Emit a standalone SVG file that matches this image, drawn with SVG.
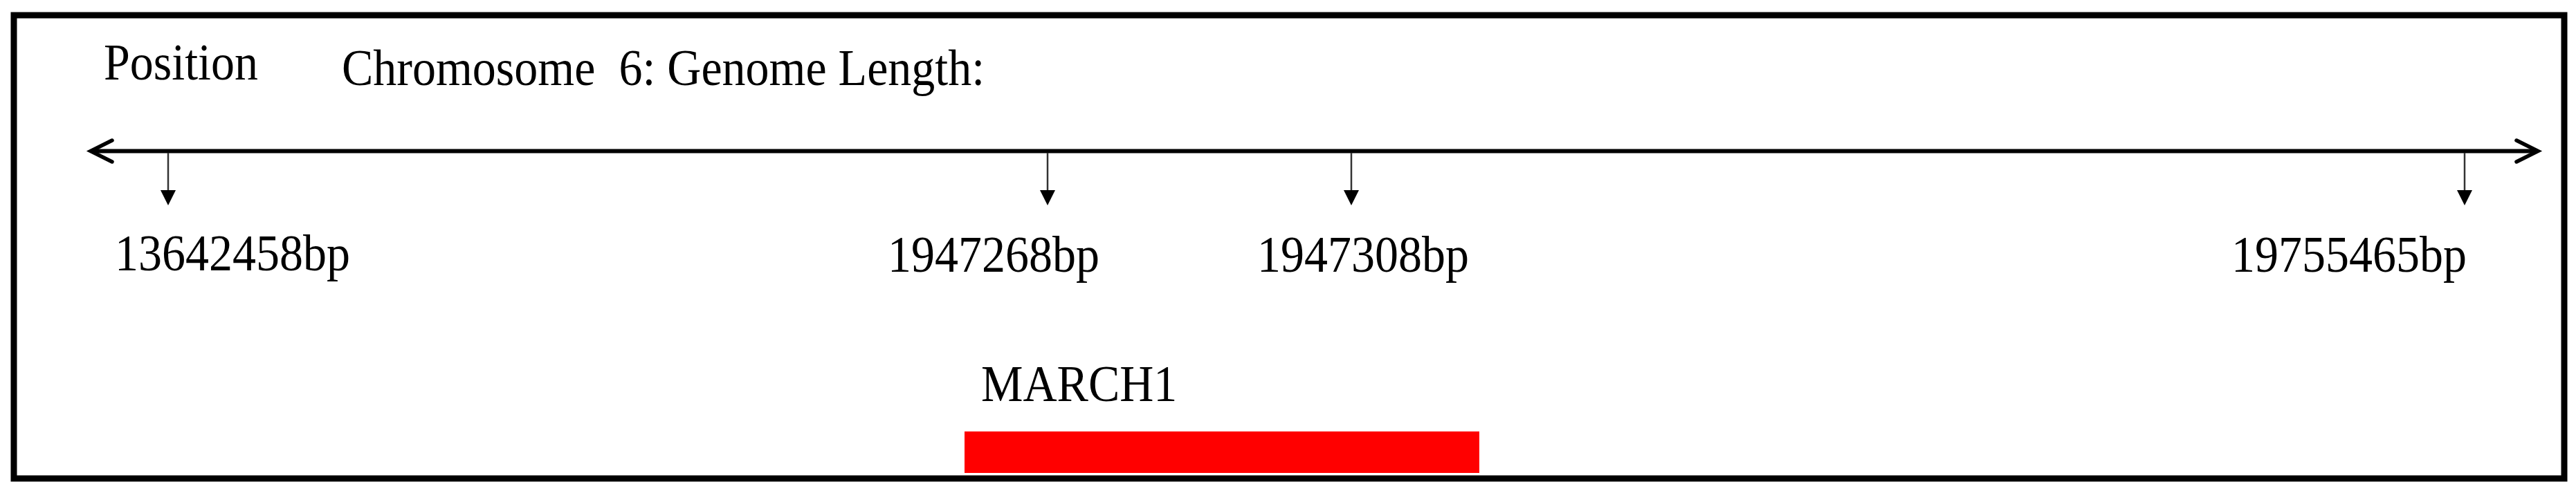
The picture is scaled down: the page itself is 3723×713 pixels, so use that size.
<svg xmlns="http://www.w3.org/2000/svg" width="3723" height="713" viewBox="0 0 3723 713">
<style>
.t{font-family:"Liberation Serif","Times New Roman",serif;font-size:68px;fill:#000}
.tick{stroke:#333;stroke-width:2.5}
.head{fill:#000}
.chev{fill:none;stroke:#000;stroke-width:5.5;stroke-linecap:round;stroke-linejoin:miter}
</style>
<rect x="0" y="0" width="3723" height="713" fill="#fff"/>
<g id="frame"><rect x="20" y="22" width="3686" height="670" fill="#fff" stroke="#000" stroke-width="9"/></g>
<g id="connectors">
<line x1="133" y1="218.5" x2="3666" y2="218.5" stroke="#000" stroke-width="6"/>
<polyline class="chev" points="162,203 131,218.5 162,234"/>
<polyline class="chev" points="3637,203 3668,218.5 3637,234"/>
<line class="tick" x1="243" y1="221" x2="243" y2="277"/><polygon class="head" points="232,275 254,275 243,297"/>
<line class="tick" x1="1514" y1="221" x2="1514" y2="277"/><polygon class="head" points="1503,275 1525,275 1514,297"/>
<line class="tick" x1="1953" y1="221" x2="1953" y2="277"/><polygon class="head" points="1942,275 1964,275 1953,297"/>
<line class="tick" x1="3562" y1="221" x2="3562" y2="277"/><polygon class="head" points="3551,275 3573,275 3562,297"/>
</g>
<g id="position"><text class="t" transform="translate(150,115) scale(1,1.08)">Position</text></g>
<g id="title"><text class="t" transform="translate(494,123) scale(1,1.08)" xml:space="preserve">Chromosome  6: Genome Length:</text></g>
<g id="pos1"><text class="t" transform="translate(166,391) scale(1,1.08)">13642458bp</text></g>
<g id="pos2"><text class="t" transform="translate(1283,393) scale(1,1.08)">1947268bp</text></g>
<g id="pos3"><text class="t" transform="translate(1817,393) scale(1,1.08)">1947308bp</text></g>
<g id="pos4"><text class="t" transform="translate(3225,393) scale(1,1.08)">19755465bp</text></g>
<g id="march1"><text class="t" transform="translate(1418,580) scale(1,1.08)">MARCH1</text><rect x="1394" y="624" width="744" height="60" fill="#ff0000"/></g>
</svg>
